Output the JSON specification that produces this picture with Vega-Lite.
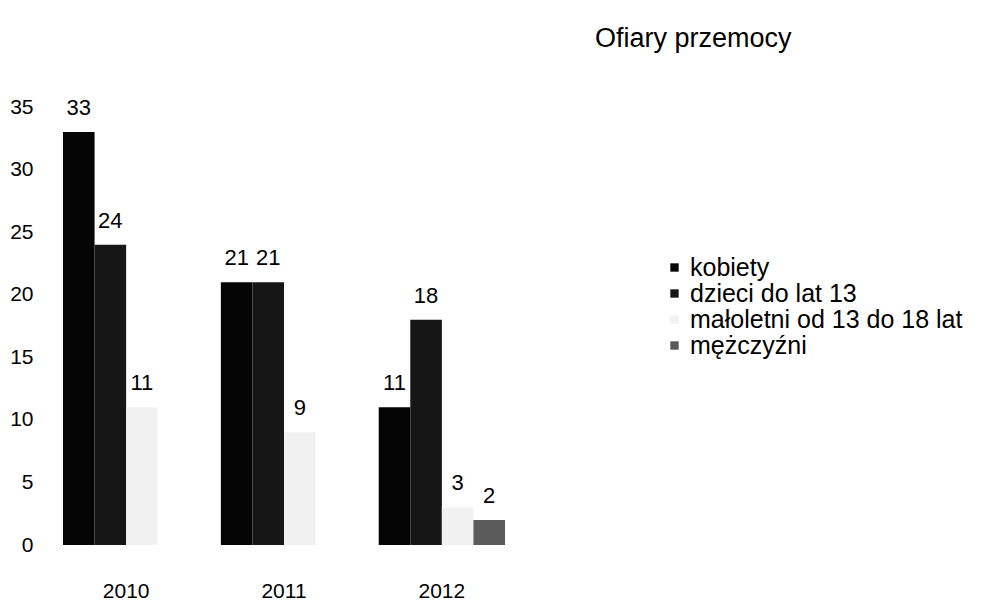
{
  "$schema": "https://vega.github.io/schema/vega-lite/v6.json",
  "autosize": "none",
  "width": 478,
  "height": 438,
  "padding": {"left": 45, "top": 107, "right": 459, "bottom": 58},
  "background": "white",
  "config": {
    "font": "Liberation Sans",
    "view": {"stroke": null}
  },
  "title": {
    "text": "Ofiary przemocy",
    "anchor": "start",
    "frame": "group",
    "dx": 550,
    "offset": 43,
    "fontSize": 27,
    "fontWeight": "normal",
    "font": "Liberation Sans",
    "color": "#000000"
  },
  "data": {
    "values": [
      {"rok": "2010", "grupa": "kobiety", "liczba": 33},
      {"rok": "2010", "grupa": "dzieci do lat 13", "liczba": 24},
      {"rok": "2010", "grupa": "małoletni od 13 do 18 lat", "liczba": 11},
      {"rok": "2011", "grupa": "kobiety", "liczba": 21},
      {"rok": "2011", "grupa": "dzieci do lat 13", "liczba": 21},
      {"rok": "2011", "grupa": "małoletni od 13 do 18 lat", "liczba": 9},
      {"rok": "2012", "grupa": "kobiety", "liczba": 11},
      {"rok": "2012", "grupa": "dzieci do lat 13", "liczba": 18},
      {"rok": "2012", "grupa": "małoletni od 13 do 18 lat", "liczba": 3},
      {"rok": "2012", "grupa": "mężczyźni", "liczba": 2}
    ]
  },
  "encoding": {
    "x": {
      "field": "rok",
      "type": "nominal",
      "scale": {"paddingInner": 0.2, "paddingOuter": 0.114},
      "axis": {
        "title": null,
        "labelAngle": 0,
        "domain": false,
        "ticks": false,
        "labelFontSize": 21,
        "labelColor": "#000000",
        "labelPadding": 35
      }
    },
    "xOffset": {
      "field": "grupa",
      "type": "nominal",
      "sort": ["kobiety", "dzieci do lat 13", "małoletni od 13 do 18 lat", "mężczyźni"],
      "scale": {"paddingInner": 0, "paddingOuter": 0}
    },
    "y": {
      "field": "liczba",
      "type": "quantitative",
      "scale": {"domain": [0, 35], "nice": false},
      "axis": {
        "title": null,
        "values": [0, 5, 10, 15, 20, 25, 30, 35],
        "domain": false,
        "ticks": false,
        "grid": false,
        "labelFontSize": 21,
        "labelColor": "#000000",
        "labelPadding": 12
      }
    }
  },
  "layer": [
    {
      "mark": {"type": "bar"},
      "encoding": {
        "color": {
          "field": "grupa",
          "type": "nominal",
          "sort": ["kobiety", "dzieci do lat 13", "małoletni od 13 do 18 lat", "mężczyźni"],
          "scale": {
            "domain": ["kobiety", "dzieci do lat 13", "małoletni od 13 do 18 lat", "mężczyźni"],
            "range": ["#050505", "#161616", "#f1f1f1", "#5a5a5a"]
          },
          "legend": {
            "title": null,
            "orient": "none",
            "legendX": 617,
            "legendY": 148,
            "symbolType": "square",
            "symbolSize": 70,
            "symbolStrokeWidth": 0,
            "labelFontSize": 25,
            "labelColor": "#000000",
            "labelOffset": 3,
            "labelLimit": 0,
            "rowPadding": 0
          }
        }
      }
    },
    {
      "mark": {"type": "text", "baseline": "bottom", "dy": -12, "fontSize": 22, "color": "#000000"},
      "encoding": {
        "text": {"field": "liczba", "type": "quantitative"}
      }
    }
  ]
}
